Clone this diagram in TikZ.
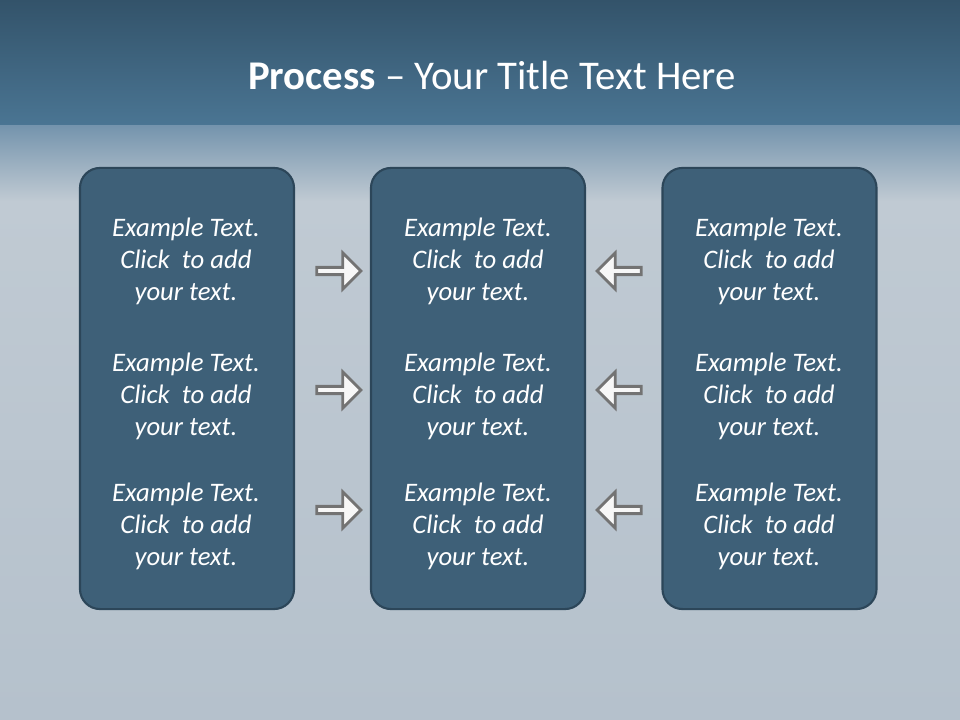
\documentclass[tikz,border=0pt]{standalone}
\usepackage{fontspec}
\setmainfont{Carlito}
\usetikzlibrary{shapes.arrows,positioning}

\definecolor{bandtop}{HTML}{33536A}
\definecolor{bandbot}{HTML}{4A7593}
\definecolor{haze}{HTML}{7393AC}
\definecolor{paper}{HTML}{C0CAD3}
\definecolor{paperlow}{HTML}{B5C1CC}
\definecolor{boxfill}{HTML}{3E6078}
\definecolor{boxline}{HTML}{2C4659}

\begin{document}
\begin{tikzpicture}[
    x=0.025cm,y=-0.025cm,
    column/.style={rectangle,draw=boxline,fill=boxfill,line width=1.5pt,minimum width=5.35cm,minimum height=11.025cm,rounded corners=0.5cm},
    entry/.style={align=center,text=white,font=\fontsize{19}{22.8}\selectfont\itshape},
    pointer/.style={single arrow,draw=gray!90!black,fill=white!94!gray,line width=2pt,minimum height=1.1cm,minimum width=0.9cm,single arrow head extend=0.14cm,inner sep=0pt}
]
    % Background
    \useasboundingbox (0,0) rectangle (960,720);
    \shade[top color=paper,bottom color=paperlow] (0,200) rectangle (960,720);
    \shade[top color=haze,bottom color=paper] (0,124) rectangle (960,201);
    \shade[top color=bandtop,bottom color=bandbot] (0,0) rectangle (960,125);

    % Title
    \node[text=white,font=\fontsize{29}{36}\selectfont] (title) at (492,75) {\textbf{Process} -- Your Title Text Here};

    % Columns
    \node[column] (left) at (187,388.5) {};
    \node[column] (mid) at (478,388.5) {};
    \node[column] (right) at (769.5,388.5) {};

    % Texts
    \foreach \col/\x in {left/186,mid/478,right/769}{
        \node[entry] (\col-a) at (\x,261) {Example Text.\\Click~ to add\\your text.};
        \node[entry] (\col-b) at (\x,396) {Example Text.\\Click~ to add\\your text.};
        \node[entry] (\col-c) at (\x,526) {Example Text.\\Click~ to add\\your text.};
    }

    % Arrows
    \foreach \row/\y in {a/271,b/390,c/510}{
        \node[pointer] (in-\row) at (337,\y) {};
        \node[pointer,shape border rotate=180] (out-\row) at (621,\y) {};
    }
\end{tikzpicture}
\end{document}
